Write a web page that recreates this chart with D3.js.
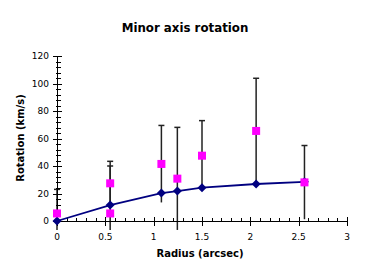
<!DOCTYPE html>
<html>
<head>
<meta charset="utf-8">
<script src="https://cdn.jsdelivr.net/npm/d3@7"></script>
<style>
html,body{margin:0;padding:0;background:#fff;}
svg{display:block;}
</style>
</head>
<body>
<svg id="chart" width="374" height="280"></svg>
<script>
// Data
const titleText = "Minor axis rotation";
const xLabel = "Radius (arcsec)";
const yLabel = "Rotation (km/s)";
const xTicks = [0, 0.5, 1, 1.5, 2, 2.5, 3];
const yTicks = [0, 20, 40, 60, 80, 100, 120];
// model curve (navy diamonds)
const modelX = [0, 0.55, 1.08, 1.245, 1.5, 2.06, 2.56];
const modelY = [0, 11.6, 20.3, 21.8, 24.2, 26.9, 28.5];
// observed (magenta squares) with symmetric errors
const obsX = [0, 0.55, 0.55, 1.08, 1.245, 1.5, 2.06, 2.56];
const obsY = [5.5, 27.4, 5.5, 41.5, 30.8, 47.5, 65.5, 28.1];
const obsErr = [17.5, 16, 34.5, 28, 37.3, 25.5, 38.3, 26.8];

const svg = d3.select("#chart");
const x = d3.scaleLinear().domain([0, 3]).range([57, 347]);
const y = d3.scaleLinear().domain([0, 120]).range([221, 56]);
const font = "DejaVu Sans, Verdana, sans-serif";

// Title
svg.append("text").attr("x", 185).attr("y", 32).attr("text-anchor", "middle")
  .attr("font-family", font).attr("font-weight", "bold").attr("font-size", 11.8)
  .text(titleText);

// Error bars (clipped a bit below axis)
const lowClip = -6.5;
const eg = svg.append("g").attr("stroke", "#222").attr("stroke-width", 1.5);
obsX.forEach((xv, i) => {
  const hi = obsY[i] + obsErr[i];
  const lo = Math.max(obsY[i] - obsErr[i], lowClip);
  eg.append("line").attr("x1", x(xv)).attr("x2", x(xv)).attr("y1", y(hi)).attr("y2", y(lo));
  eg.append("line").attr("x1", x(xv) - 3).attr("x2", x(xv) + 3).attr("y1", y(hi)).attr("y2", y(hi));
});

// Axes
const ag = svg.append("g").attr("stroke", "#000").attr("stroke-width", 1).attr("shape-rendering", "crispEdges");
ag.append("line").attr("x1", x(0)).attr("x2", x(3)).attr("y1", y(0) + 0.5).attr("y2", y(0) + 0.5);
ag.append("line").attr("x1", x(0) + 0.5).attr("x2", x(0) + 0.5).attr("y1", y(120)).attr("y2", y(0));
// x ticks
d3.range(0, 31).forEach(k => {
  const v = k / 10;
  const xx = Math.round(x(v)) + 0.5;
  if (k % 5 === 0) {
    ag.append("line").attr("x1", xx).attr("x2", xx).attr("y1", y(0) - 4).attr("y2", y(0) + 5);
  } else {
    ag.append("line").attr("x1", xx).attr("x2", xx).attr("y1", y(0) - 3).attr("y2", y(0) + 1);
  }
});
// y ticks
d3.range(0, 31).forEach(k => {
  const v = k * 4;
  const yy = Math.round(y(v)) + 0.5;
  if (k % 5 === 0) {
    ag.append("line").attr("x1", x(0) - 4).attr("x2", x(0) + 5).attr("y1", yy).attr("y2", yy);
  } else {
    ag.append("line").attr("x1", x(0) - 1).attr("x2", x(0) + 4).attr("y1", yy).attr("y2", yy);
  }
});

// Tick labels
svg.append("g").selectAll("text").data(xTicks).join("text")
  .attr("x", d => x(d)).attr("y", 240).attr("text-anchor", "middle")
  .attr("font-family", font).attr("font-size", 9).attr("fill", "#000")
  .text(d => d);
svg.append("g").selectAll("text").data(yTicks).join("text")
  .attr("x", 49).attr("y", d => y(d) + 3).attr("text-anchor", "end")
  .attr("font-family", font).attr("font-size", 9).attr("fill", "#000")
  .text(d => d);

// Axis titles
svg.append("text").attr("x", 200).attr("y", 257).attr("text-anchor", "middle")
  .attr("font-family", font).attr("font-weight", "bold").attr("font-size", 10)
  .text(xLabel);
svg.append("text").attr("transform", "translate(24,138) rotate(-90)").attr("text-anchor", "middle")
  .attr("font-family", font).attr("font-weight", "bold").attr("font-size", 10)
  .text(yLabel);

// Model line
const line = d3.line().x((d, i) => x(modelX[i])).y((d, i) => y(modelY[i]));
svg.append("path").datum(modelY).attr("d", line).attr("fill", "none")
  .attr("stroke", "#000080").attr("stroke-width", 1.8);
svg.append("g").selectAll("path").data(modelY).join("path")
  .attr("transform", (d, i) => `translate(${x(modelX[i])},${y(d)})`)
  .attr("d", "M0,-4.5L4.5,0L0,4.5L-4.5,0Z").attr("fill", "#000080");

// Observed squares
svg.append("g").selectAll("rect").data(obsY).join("rect")
  .attr("x", (d, i) => x(obsX[i]) - 4).attr("y", d => y(d) - 4)
  .attr("width", 8).attr("height", 8).attr("fill", "#FF00FF");
</script>
</body>
</html>
